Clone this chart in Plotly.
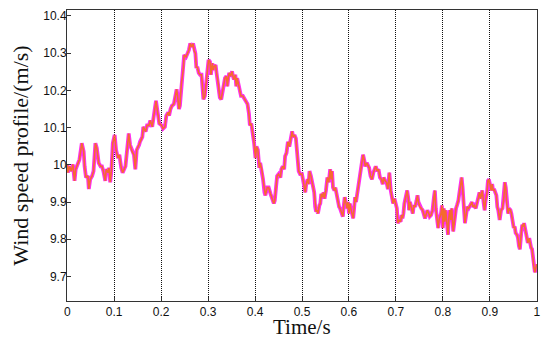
import plotly.graph_objects as go

# time axis (s) and wind speed (m/s)
time_s = [
    0.000, 0.0014, 0.005, 0.0085, 0.012, 0.0156, 0.018, 0.0227, 0.026, 0.031,
    0.035, 0.037, 0.040, 0.044, 0.046, 0.049, 0.053, 0.056, 0.060, 0.063,
    0.067, 0.071, 0.074, 0.077, 0.081, 0.083, 0.087, 0.089, 0.0915, 0.094,
    0.097, 0.101, 0.104, 0.108, 0.111, 0.115, 0.118, 0.124, 0.128, 0.131,
    0.134, 0.138, 0.142, 0.145, 0.148, 0.153, 0.155, 0.160, 0.162, 0.167,
    0.170, 0.174, 0.177, 0.181, 0.184, 0.187, 0.189, 0.193, 0.196, 0.201,
    0.204, 0.208, 0.209, 0.211, 0.215, 0.217, 0.220, 0.223, 0.227, 0.230,
    0.233, 0.235, 0.238, 0.240, 0.243, 0.247, 0.249, 0.253, 0.256, 0.259,
    0.262, 0.265, 0.268, 0.270, 0.273, 0.275, 0.277, 0.280, 0.283, 0.286,
    0.288, 0.290, 0.293, 0.296, 0.300, 0.301, 0.304, 0.306, 0.309, 0.311,
    0.313, 0.316, 0.318, 0.321, 0.325, 0.328, 0.332, 0.336, 0.339, 0.341,
    0.343, 0.345, 0.348, 0.351, 0.353, 0.355, 0.358, 0.360, 0.362, 0.365,
    0.370, 0.374, 0.379, 0.384, 0.387, 0.389, 0.392, 0.395, 0.398, 0.401,
    0.403, 0.406, 0.408, 0.409, 0.411, 0.415, 0.417, 0.420, 0.422, 0.426,
    0.429, 0.433, 0.436, 0.440, 0.442, 0.445, 0.447, 0.450, 0.454, 0.456,
    0.459, 0.462, 0.464, 0.467, 0.470, 0.473, 0.476, 0.479, 0.481, 0.484,
    0.487, 0.489, 0.491, 0.493, 0.496, 0.500, 0.502, 0.505, 0.507, 0.509,
    0.512, 0.514, 0.516, 0.519, 0.521, 0.523, 0.526, 0.528, 0.530, 0.532,
    0.534, 0.537, 0.539, 0.541, 0.544, 0.546, 0.548, 0.551, 0.554, 0.557,
    0.560, 0.562, 0.564, 0.566, 0.569, 0.571, 0.574, 0.577, 0.579, 0.581,
    0.584, 0.587, 0.589, 0.591, 0.596, 0.598, 0.600, 0.602, 0.604, 0.606,
    0.609, 0.611, 0.613, 0.615, 0.617, 0.619, 0.622, 0.625, 0.628, 0.630,
    0.633, 0.635, 0.638, 0.640, 0.643, 0.646, 0.649, 0.652, 0.655, 0.657,
    0.660, 0.663, 0.666, 0.669, 0.672, 0.674, 0.677, 0.680, 0.683, 0.686,
    0.689, 0.691, 0.694, 0.697, 0.700, 0.702, 0.704, 0.707, 0.710, 0.712,
    0.714, 0.716, 0.718, 0.721, 0.724, 0.727, 0.728, 0.730, 0.733, 0.736,
    0.738, 0.741, 0.744, 0.746, 0.748, 0.751, 0.754, 0.757, 0.760, 0.762,
    0.764, 0.767, 0.770, 0.772, 0.775, 0.778, 0.781, 0.783, 0.785, 0.788,
    0.790, 0.792, 0.796, 0.798, 0.800, 0.802, 0.804, 0.806, 0.809, 0.811,
    0.813, 0.815, 0.817, 0.819, 0.822, 0.824, 0.826, 0.828, 0.830, 0.833,
    0.835, 0.838, 0.840, 0.842, 0.843, 0.845, 0.847, 0.850, 0.852, 0.855,
    0.857, 0.860, 0.862, 0.864, 0.867, 0.870, 0.873, 0.876, 0.878, 0.880,
    0.882, 0.884, 0.887, 0.889, 0.891, 0.894, 0.896, 0.898, 0.901, 0.903,
    0.905, 0.907, 0.909, 0.911, 0.914, 0.916, 0.918, 0.921, 0.924, 0.927,
    0.930, 0.932, 0.934, 0.936, 0.939, 0.941, 0.944, 0.946, 0.949, 0.951,
    0.953, 0.955, 0.958, 0.960, 0.962, 0.964, 0.967, 0.969, 0.971, 0.973,
    0.975, 0.977, 0.979, 0.981, 0.984, 0.986, 0.988, 0.990, 0.992, 0.994,
    0.996, 0.998, 1.000,
]

wind_ms = [
    10.001, 9.979, 9.996, 9.983, 10.001, 9.957, 9.988, 10.005, 10.014, 10.058,
    10.036, 9.996, 9.966, 9.970, 9.935, 9.961, 9.970, 9.983, 10.058, 10.045,
    10.005, 9.996, 9.996, 9.983, 9.957, 9.988, 9.979, 9.992, 9.953, 9.983,
    10.058, 10.080, 10.040, 10.018, 10.027, 9.992, 9.979, 9.996, 10.040, 10.084,
    10.053, 10.036, 10.027, 9.988, 10.040, 10.053, 10.062, 10.075, 10.102, 10.089,
    10.106, 10.106, 10.119, 10.102, 10.128, 10.150, 10.172, 10.137, 10.111, 10.106,
    10.097, 10.102, 10.119, 10.132, 10.141, 10.132, 10.150, 10.159, 10.163, 10.185,
    10.203, 10.185, 10.150, 10.159, 10.216, 10.255, 10.295, 10.290, 10.299, 10.308,
    10.326, 10.317, 10.326, 10.308, 10.299, 10.260, 10.264, 10.247, 10.242, 10.242,
    10.211, 10.176, 10.185, 10.220, 10.255, 10.282, 10.277, 10.242, 10.273, 10.255,
    10.264, 10.268, 10.247, 10.225, 10.181, 10.176, 10.207, 10.233, 10.238, 10.211,
    10.233, 10.247, 10.238, 10.251, 10.238, 10.229, 10.242, 10.211, 10.233, 10.216,
    10.185, 10.185, 10.172, 10.163, 10.137, 10.106, 10.111, 10.089, 10.058, 10.018,
    10.049, 10.040, 10.010, 9.992, 10.005, 9.983, 9.961, 9.926, 9.918, 9.939,
    9.939, 9.922, 9.909, 9.896, 9.904, 9.935, 9.970, 9.975, 9.966, 9.988,
    9.996, 9.988, 10.023, 10.032, 10.062, 10.049, 10.067, 10.090, 10.075, 10.080,
    10.071, 10.036, 10.001, 9.983, 9.975, 9.975, 9.961, 9.931, 9.926, 9.948,
    9.961, 9.948, 9.983, 9.970, 9.953, 9.944, 9.926, 9.887, 9.874, 9.878,
    9.869, 9.891, 9.896, 9.922, 9.913, 9.926, 9.909, 9.931, 9.966, 9.953,
    9.988, 9.961, 9.983, 9.939, 9.931, 9.939, 9.918, 9.896, 9.887, 9.883,
    9.869, 9.861, 9.891, 9.913, 9.883, 9.900, 9.869, 9.896, 9.883, 9.869,
    9.856, 9.883, 9.913, 9.900, 9.918, 9.935, 9.966, 9.996, 10.023, 10.027,
    10.010, 9.996, 10.005, 10.001, 9.992, 9.970, 9.961, 9.979, 9.988, 9.996,
    9.983, 9.988, 9.966, 9.961, 9.948, 9.966, 9.957, 9.953, 9.935, 9.979,
    9.931, 9.918, 9.896, 9.909, 9.896, 9.883, 9.843, 9.852, 9.847, 9.865,
    9.856, 9.869, 9.896, 9.913, 9.931, 9.904, 9.878, 9.900, 9.883, 9.869,
    9.891, 9.887, 9.904, 9.918, 9.900, 9.887, 9.883, 9.878, 9.865, 9.856,
    9.865, 9.878, 9.869, 9.861, 9.865, 9.878, 9.913, 9.931, 9.883, 9.852,
    9.830, 9.852, 9.869, 9.891, 9.830, 9.883, 9.847, 9.878, 9.830, 9.812,
    9.861, 9.878, 9.852, 9.883, 9.821, 9.847, 9.869, 9.883, 9.891, 9.904,
    9.922, 9.944, 9.966, 9.939, 9.909, 9.887, 9.843, 9.869, 9.887, 9.883,
    9.887, 9.896, 9.900, 9.887, 9.891, 9.883, 9.896, 9.913, 9.926, 9.909,
    9.918, 9.931, 9.896, 9.878, 9.904, 9.926, 9.957, 9.961, 9.944, 9.931,
    9.948, 9.931, 9.935, 9.926, 9.918, 9.887, 9.878, 9.852, 9.878, 9.883,
    9.913, 9.953, 9.939, 9.896, 9.869, 9.883, 9.878, 9.869, 9.839, 9.830,
    9.834, 9.817, 9.812, 9.803, 9.782, 9.773, 9.817, 9.839, 9.834, 9.843,
    9.830, 9.812, 9.795, 9.790, 9.803, 9.786, 9.777, 9.773, 9.742, 9.724,
    9.711, 9.724, 9.733,
]

x_ticks = [0, 0.1, 0.2, 0.3, 0.4, 0.5, 0.6, 0.7, 0.8, 0.9, 1]
x_labels = ["0", "0.1", "0.2", "0.3", "0.4", "0.5", "0.6", "0.7", "0.8", "0.9", "1"]
y_ticks = [9.7, 9.8, 9.9, 10, 10.1, 10.2, 10.3, 10.4]
y_labels = ["9.7", "9.8", "9.9", "10", "10.1", "10.2", "10.3", "10.4"]

TITLE_FONT = dict(family="Liberation Serif, Times New Roman", size=22, color="#111")

fig = go.Figure()
# magenta underneath, orange on top -- they overlap almost everywhere
fig.add_trace(go.Scatter(
    x=time_s, y=wind_ms, mode="lines",
    line=dict(color="#FF30F0", width=3.8),
    showlegend=False, hoverinfo="skip",
))
fig.add_trace(go.Scatter(
    x=time_s, y=wind_ms, mode="lines",
    line=dict(color="#F56A2E", width=1.6),
    showlegend=False,
))

axis_common = dict(
    showline=True, linecolor="#333", linewidth=1, mirror=True,
    ticks="inside", ticklen=4, tickcolor="#333",
    tickfont=dict(family="Liberation Sans, Arial", size=12, color="#111"),
    zeroline=False, automargin=False,
)

fig.update_xaxes(
    range=[-0.0005, 1.0005], tickvals=x_ticks, ticktext=x_labels,
    showgrid=True, gridcolor="#111", gridwidth=1, griddash="1px,1px",
    **axis_common,
)
fig.update_yaxes(
    range=[9.634, 10.416], tickvals=y_ticks, ticktext=y_labels,
    showgrid=False, ticklabelstandoff=-3,
    title=dict(text="Wind speed profile/(m/s)", standoff=8, font=TITLE_FONT),
    **axis_common,
)

# x title as an annotation so it can sit just under the tick labels
fig.add_annotation(
    text="Time/s", xref="paper", yref="paper", x=0.5, y=-0.045,
    xanchor="center", yanchor="top", showarrow=False, borderpad=0,
    font=dict(family="Liberation Serif, Times New Roman", size=21, color="#111"),
)

# page has an 8px body margin, so the figure is a bit smaller than the window
fig.update_layout(
    width=542, height=333,
    margin=dict(l=59, r=13, t=2, b=40),
    plot_bgcolor="white", paper_bgcolor="white",
)

fig.write_html("out.html")
